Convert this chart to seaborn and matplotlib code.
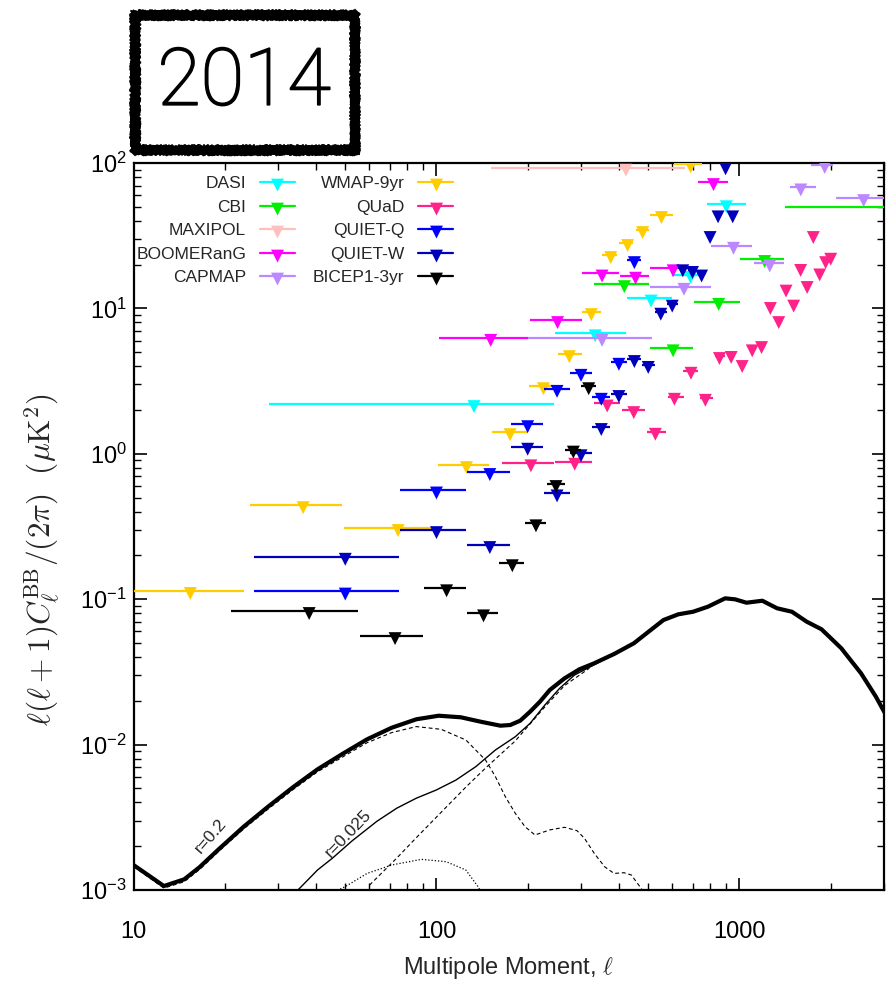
import matplotlib
matplotlib.use("Agg")
import numpy as np
import pandas as pd
import matplotlib.pyplot as plt
import seaborn as sns
from matplotlib import font_manager
from matplotlib import patheffects
from matplotlib.lines import Line2D
from matplotlib.path import Path
from matplotlib.ticker import NullFormatter, LogLocator

# ---------------- data ----------------
experiments = ["DASI", "CBI", "MAXIPOL", "BOOMERanG", "CAPMAP",
               "WMAP-9yr", "QUaD", "QUIET-Q", "QUIET-W", "BICEP1-3yr"]
colors = ["#00FFFF", "#00EE00", "#FFBFBF", "#FF00FF", "#BB88FF",
          "#FFCC00", "#FF2288", "#0000FF", "#0000BB", "#000000"]

dasi_l = [133, 334, 511, 690, 905]
dasi_lo = [28, 247, 424, 601, 783]
dasi_hi = [245, 423, 599, 742, 1050]
dasi_v = [2.20, 6.75, 11.7, 17.0, 52.1]

cbi_l = [417, 604, 854, 1211, 3300]
cbi_lo = [331, 507, 708, 1008, 1409]
cbi_hi = [501, 702, 1002, 1406, 5000]
cbi_v = [14.7, 5.32, 11.1, 21.9, 50.0]

maxipol_l = [422]
maxipol_lo = [151]
maxipol_hi = [662]
maxipol_v = [93.0]

boom_l = [151, 251, 352, 454, 604, 821]
boom_lo = [102, 203, 303, 402, 507, 729]
boom_hi = [200, 302, 399, 501, 629, 920]
boom_v = [6.28, 8.32, 17.4, 16.8, 18.9, 74.0]

capmap_l = [352, 656, 956, 1259, 1594, 1912, 2570]
capmap_lo = [201, 507, 808, 1113, 1473, 1718, 2077]
capmap_hi = [514, 805, 1104, 1407, 1790, 2030, 3150]
capmap_v = [6.28, 14.1, 27.0, 20.4, 68.0, 97.0, 57.4]

wmap_l = [15.4, 36.3, 74.7, 125.6, 175, 225.5, 274.5, 324.5, 376, 427.5, 479, 553, 690]
wmap_lo = [8, 24.2, 49.7, 101, 152, 202, 252, 302.5, 352.5, 401.5, 455, 507, 607]
wmap_hi = [23.2, 48.7, 96.4, 149, 201, 243, 302, 350, 393, 446, 502, 604, 750]
wmap_v = [0.114, 0.444, 0.309, 0.837, 1.41, 2.92, 4.85, 9.44, 23.3, 28.2, 34.6, 43.9, 98.0]

quad_l = [205, 286, 366, 448, 528, 610, 692, 772, 859, 939, 1021, 1102,
          1183, 1265, 1348, 1425, 1510, 1592, 1673, 1753, 1840, 1925, 2001]
quad_lo = [165, 247, 330, 410, 494, 580, 650, 740, 831, 915, 994, 1073,
           1152, 1231, 1315, 1388, 1473, 1557, 1642, 1716, 1801, 1886, 1960]
quad_hi = [245, 327, 404, 488, 571, 654, 728, 819, 893, 967, 1052, 1136,
           1220, 1304, 1388, 1462, 1547, 1631, 1716, 1790, 1875, 1960, 2044]
quad_v = [0.861, 0.883, 2.22, 2.00, 1.42, 2.47, 3.73, 2.43, 4.71, 4.79, 4.15, 5.32,
          5.60, 10.4, 8.32, 13.7, 10.8, 19.0, 14.5, 32.0, 17.7, 21.5, 22.7]

quietq_l = [50, 100, 150, 200, 250, 300, 350, 400, 450]
quietq_lo = [25, 76, 126, 176, 226, 276, 326, 376, 426]
quietq_hi = [75, 125, 175, 225, 275, 325, 375, 425, 475]
quietq_v = [0.113, 0.56, 0.75, 1.60, 2.80, 3.61, 2.47, 4.30, 21.5]

quietw_l = [50, 100, 150, 200, 250, 300, 350, 400, 450, 500,
            550, 600, 650, 700, 750, 800, 850, 900, 950]
quietw_lo = [25, 76, 126, 176, 226, 276, 326, 376, 426, 476,
             526, 576, 626, 676, 726, 776, 826, 876, 926]
quietw_hi = [75, 125, 175, 225, 275, 325, 375, 425, 475, 525,
             575, 625, 675, 725, 775, 825, 875, 925, 975]
quietw_v = [0.196, 0.299, 0.236, 1.12, 0.535, 1.01, 1.53, 2.58, 4.49, 4.09,
            9.5, 10.8, 18.9, 18.4, 17.4, 32.0, 44.4, 95.0, 44.4]

bicep_l = [38, 73, 108, 143, 178, 213, 248, 283, 318]
bicep_lo = [21, 56, 91, 126, 161, 196, 231, 266, 301]
bicep_hi = [55, 90, 125, 160, 195, 230, 265, 300, 335]
bicep_v = [0.083, 0.0558, 0.119, 0.080, 0.177, 0.333, 0.620, 1.07, 2.92]

# theory curves
total02_l = [10.0, 12.6, 14.7, 16.5, 19.1, 23.1, 27.8, 33.6, 40.5, 48.9, 59.0, 71.2,
             85.8, 101.7, 120.4, 139.9, 162.6, 175.2, 188.9, 203.7, 219.5, 236.6,
             264.8, 296.4, 331.6, 385.6, 448.0, 501.3, 561.5, 628.1, 703.3, 787.0,
             897.1, 967.2, 1055, 1190, 1331, 1490, 1668, 1866, 2168, 2520, 2821, 3100]
total02_v = [1.486e-3, 1.065e-3, 1.184e-3, 1.432e-3, 1.905e-3, 2.725e-3, 3.74e-3,
             5.09e-3, 6.76e-3, 8.62e-3, 0.01087, 0.01307, 0.01493, 0.0158, 0.01541,
             0.01437, 0.01349, 0.01364, 0.0146, 0.01684, 0.01973, 0.02374, 0.02858,
             0.03296, 0.03624, 0.04198, 0.04972, 0.05977, 0.07194, 0.0787, 0.0820,
             0.0888, 0.1014, 0.0998, 0.0946, 0.0976, 0.0866, 0.0820, 0.0700, 0.0621,
             0.0460, 0.0309, 0.02135, 0.01493]

total0025_l = [34.9, 40.5, 45.3, 52.7, 63.6, 73.9, 85.8, 99.8, 115.9, 134.8, 156.5,
               182, 203.7, 228, 255, 285.5, 319.6, 385.6, 448]
total0025_v = [1.0e-3, 1.373e-3, 1.652e-3, 2.18e-3, 2.97e-3, 3.65e-3, 4.28e-3,
               4.87e-3, 5.70e-3, 7.05e-3, 9.18e-3, 0.01133, 0.0140, 0.01873,
               0.02438, 0.0301, 0.034, 0.0418, 0.0497]

tensor02_l = [10.0, 12.6, 14.7, 16.5, 19.1, 23.1, 27.8, 33.6, 40.5, 48.9, 59.0, 71.2,
              85.8, 103.6, 125, 145.2, 156.5, 168.8, 182, 196, 211.4, 236.6, 264.8,
              290.9, 307.8, 331.6, 359, 385.6, 415.7, 439.8, 465.3, 483]
tensor02_v = [1.45e-3, 1.03e-3, 1.14e-3, 1.38e-3, 1.84e-3, 2.63e-3, 3.6e-3, 4.9e-3,
              6.5e-3, 8.2e-3, 0.0103, 0.0121, 0.0133, 0.01274, 0.01076, 7.83e-3,
              6.02e-3, 4.38e-3, 3.37e-3, 2.725e-3, 2.39e-3, 2.59e-3, 2.70e-3,
              2.56e-3, 2.27e-3, 1.79e-3, 1.445e-3, 1.30e-3, 1.315e-3, 1.268e-3,
              1.08e-3, 9.7e-4]

lensing_l = [60.1, 74, 85.8, 99.8, 125, 145.2, 182, 228, 264.8, 319.6]
lensing_v = [1.08e-3, 1.66e-3, 2.29e-3, 3.16e-3, 5.1e-3, 6.9e-3, 0.0106, 0.0182,
             0.0255, 0.0335]

tensor0025_l = [45.0, 49.8, 59.0, 71.2, 89.1, 107.6, 125, 137.3, 141]
tensor0025_v = [9.5e-4, 1.05e-3, 1.30e-3, 1.486e-3, 1.625e-3, 1.566e-3, 1.373e-3,
                1.05e-3, 9.5e-4]

x_ticks = [10, 100, 1000]
x_tick_labels = ["10", "100", "1000"]

# ---------------- style ----------------
sns.set_theme(style="ticks")


def have_font(fam):
    try:
        font_manager.findfont(font_manager.FontProperties(family=fam),
                              fallback_to_default=False)
        return True
    except Exception:
        return False


main_family = "Liberation Sans" if have_font("Liberation Sans") else "DejaVu Sans"
stamp_family = "Roboto" if have_font("Roboto") else main_family
plt.rcParams["font.family"] = [main_family, "DejaVu Sans"]
plt.rcParams["mathtext.fontset"] = "cm"
plt.rcParams["axes.linewidth"] = 1.5
plt.rcParams["axes.edgecolor"] = "black"

W, H = 895, 986
fig = plt.figure(figsize=(W / 100, H / 100), dpi=100)
fig.patch.set_facecolor("white")
ax_left, ax_right, ax_top, ax_bot = 133.5, 884, 163, 890
ax = fig.add_axes([ax_left / W, 1 - ax_bot / H, (ax_right - ax_left) / W,
                   (ax_bot - ax_top) / H])
ax.set_facecolor("white")
ax.set_xscale("log")
ax.set_yscale("log")
ax.set_xlim(10, 3000)
ax.set_ylim(1e-3, 1e2)

# ---------------- theory curves ----------------
def curve(l, v, **kw):
    df = pd.DataFrame({"ell": l, "dl": v})
    sns.lineplot(data=df, x="ell", y="dl", ax=ax, sort=False, estimator=None,
                 color="black", legend=False, **kw)


curve(tensor0025_l, tensor0025_v, linewidth=0.9, linestyle=(0, (1, 1.6)), zorder=1)
curve(lensing_l, lensing_v, linewidth=0.8, linestyle=(0, (3.5, 2.5)), zorder=1)
curve(tensor02_l, tensor02_v, linewidth=0.8, linestyle=(0, (3.5, 2.5)), zorder=1)
curve(total0025_l, total0025_v, linewidth=1.0, zorder=1.2)
curve(total02_l, total02_v, linewidth=3.0, zorder=1.4)

ax.text(18.0, 2.35e-3, "r=0.2", rotation=49, fontsize=12.5, ha="center",
        va="center", rotation_mode="anchor", zorder=5)
ax.text(51.1, 2.43e-3, "r=0.025", rotation=46, fontsize=12.5, ha="center",
        va="center", rotation_mode="anchor", zorder=5)

# ---------------- data points ----------------
series = {
    "DASI": (dasi_l, dasi_lo, dasi_hi, dasi_v),
    "CBI": (cbi_l, cbi_lo, cbi_hi, cbi_v),
    "MAXIPOL": (maxipol_l, maxipol_lo, maxipol_hi, maxipol_v),
    "BOOMERanG": (boom_l, boom_lo, boom_hi, boom_v),
    "CAPMAP": (capmap_l, capmap_lo, capmap_hi, capmap_v),
    "WMAP-9yr": (wmap_l, wmap_lo, wmap_hi, wmap_v),
    "QUaD": (quad_l, quad_lo, quad_hi, quad_v),
    "QUIET-Q": (quietq_l, quietq_lo, quietq_hi, quietq_v),
    "QUIET-W": (quietw_l, quietw_lo, quietw_hi, quietw_v),
    "BICEP1-3yr": (bicep_l, bicep_lo, bicep_hi, bicep_v),
}

# downward triangle whose bar passes through its upper part (gnuplot style)
tri = Path([(-0.5, 0.3), (0.5, 0.3), (0.0, -0.7), (-0.5, 0.3)],
           [Path.MOVETO, Path.LINETO, Path.LINETO, Path.CLOSEPOLY])
MS = 13.0  # marker size in points
handles = []
for i, name in enumerate(experiments):
    l, lo, hi, v = (np.asarray(a, dtype=float) for a in series[name])
    c = colors[i]
    ax.errorbar(l, v, xerr=[l - lo, hi - l], fmt="none", ecolor=c,
                elinewidth=1.6, capsize=0, zorder=3 + i * 0.1)
    sns.scatterplot(x=l, y=v, marker=tri, s=MS ** 2, color=c, edgecolor="none",
                    linewidth=0, ax=ax, zorder=3.05 + i * 0.1, legend=False)
    handles.append(Line2D([0], [0], color=c, lw=1.6, marker=tri, markersize=MS,
                          markeredgewidth=0))

leg = ax.legend(handles, experiments, ncol=2, markerfirst=False, frameon=False,
                loc="upper right", bbox_to_anchor=(453 / W, 1 - 176 / H),
                bbox_transform=fig.transFigure, borderpad=0, borderaxespad=0,
                handlelength=2.0, handletextpad=0.8, labelspacing=0.48,
                columnspacing=1.05, prop={"family": main_family, "size": 12.5})

# ---------------- axes cosmetics ----------------
ax.set_xticks(x_ticks)
ax.set_xticklabels(x_tick_labels)
ax.xaxis.set_minor_locator(LogLocator(base=10, subs=np.arange(2, 10)))
ax.xaxis.set_minor_formatter(NullFormatter())
ax.yaxis.set_major_locator(LogLocator(base=10, numticks=10))
ax.yaxis.set_minor_locator(LogLocator(base=10, subs=np.arange(2, 10), numticks=10))
ax.yaxis.set_minor_formatter(NullFormatter())
ax.tick_params(which="both", direction="in", top=True, right=True, colors="black")
ax.tick_params(which="major", length=9, width=1.2, labelsize=17)
ax.tick_params(which="minor", length=5, width=1.0)
ax.tick_params(axis="x", which="major", pad=22)
ax.tick_params(axis="y", which="major", pad=5)
for sp in ax.spines.values():
    sp.set_linewidth(1.6)
    sp.set_color("black")

ax.set_xlabel(r"Multipole Moment, $\ell$", fontsize=17, va="center")
ax.xaxis.set_label_coords(0.5, (ax_bot - 968) / (ax_bot - ax_top))
ax.set_ylabel(r"$\ell(\ell+1)C_\ell^{\rm BB}/(2\pi)\ \ (\mu{\rm K}^2)$",
              fontsize=22.5, va="center")
ax.yaxis.set_label_coords((42 - ax_left) / (ax_right - ax_left),
                          (ax_bot - 560) / (ax_bot - ax_top))

# ---------------- "2014" stamp ----------------
bx0, bx1, by0, by1 = 135, 355, 15, 150
sides = [(bx0, by0, bx1, by0), (bx1, by0, bx1, by1),
         (bx1, by1, bx0, by1), (bx0, by1, bx0, by0)]
for lw, off, sk in [(6.0, 0.0, (1.0, 3, 4)), (2.0, 2.5, (1.5, 2, 6)),
                    (2.0, -2.5, (1.5, 2, 6)), (1.2, 4.0, (1.2, 2, 8)),
                    (1.2, -4.0, (1.2, 2, 8))]:
    for (xa, ya, xb, yb) in sides:
        ln = Line2D([(xa + off) / W, (xb + off) / W],
                    [1 - (ya + off) / H, 1 - (yb + off) / H],
                    transform=fig.transFigure, color="black", linewidth=lw,
                    solid_capstyle="projecting")
        ln.set_sketch_params(*sk)
        fig.add_artist(ln)
fig.text(244 / W, 1 - 83 / H, "2014", fontsize=57, ha="center", va="center",
         family=[stamp_family, "DejaVu Sans"], fontweight="light", color="black",
         path_effects=[patheffects.withStroke(linewidth=1.3, foreground="black")])

fig.savefig("out.png", dpi=100, facecolor="white")
